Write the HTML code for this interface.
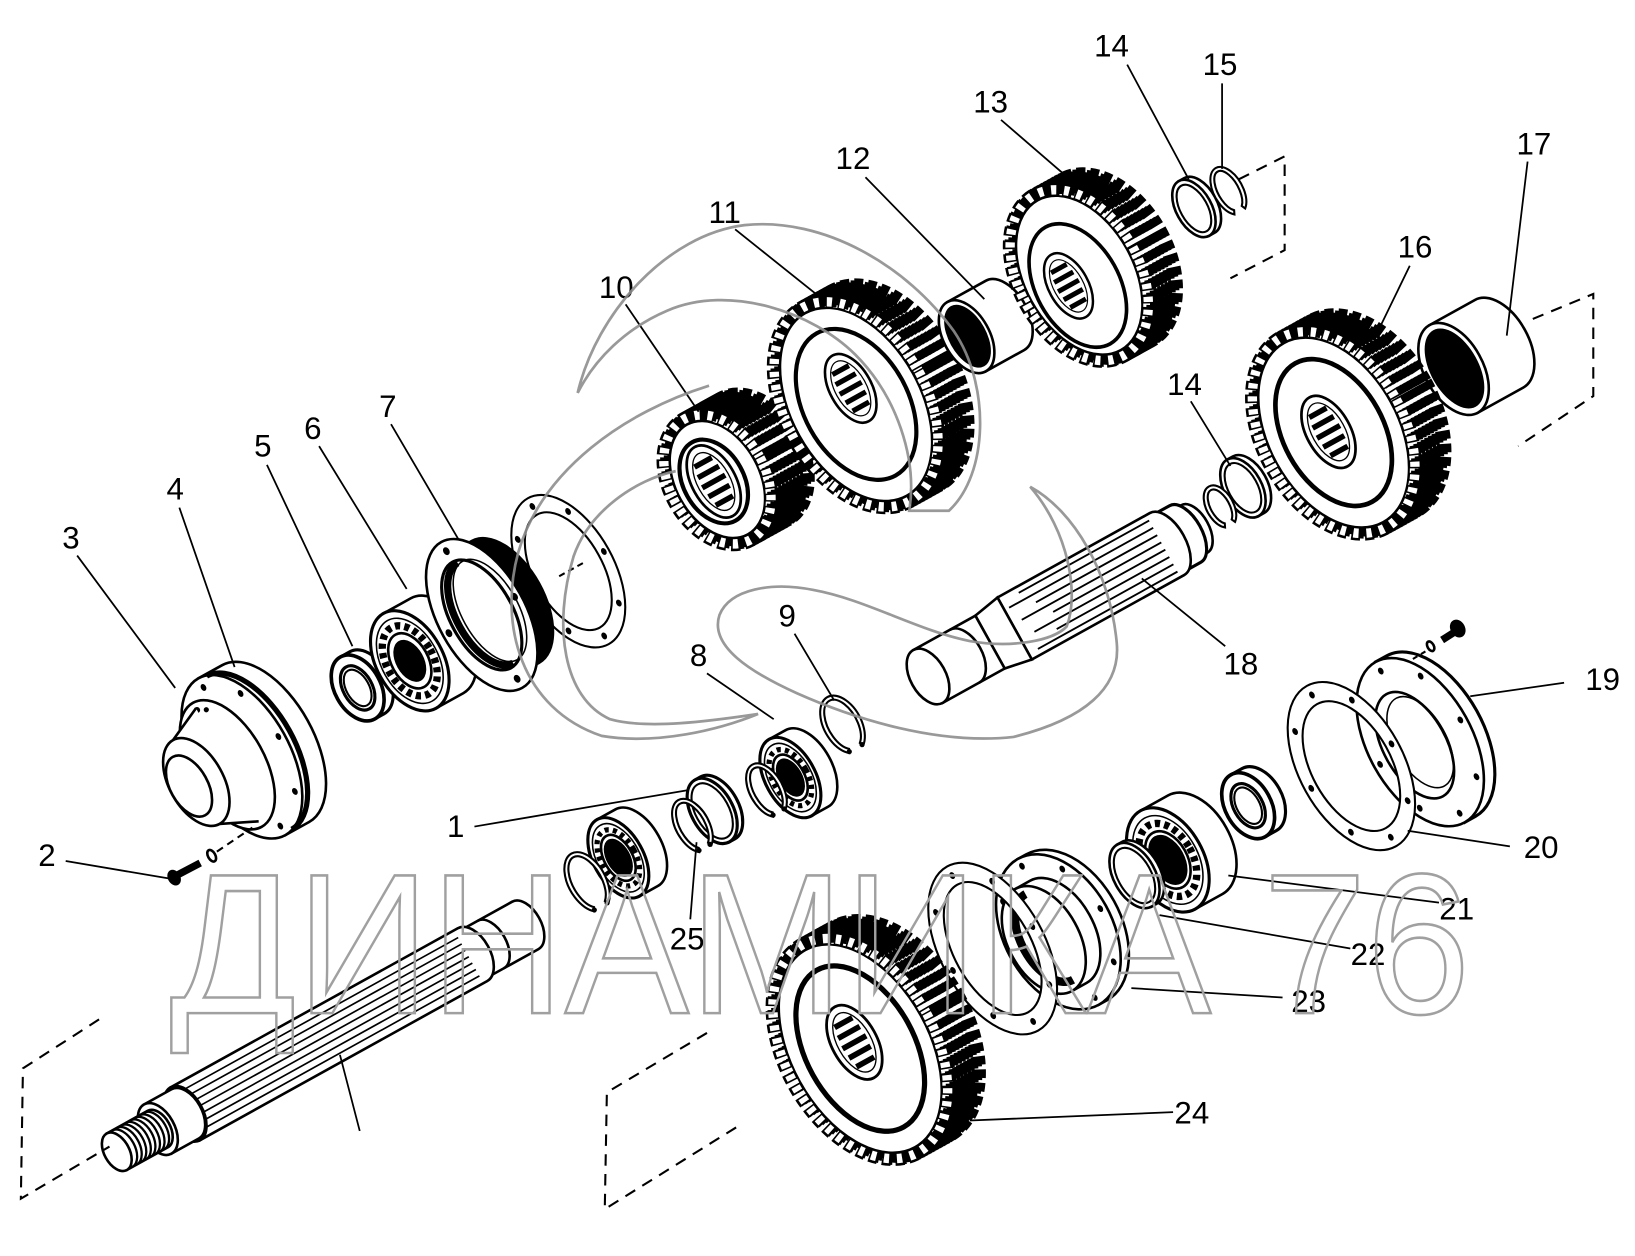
<!DOCTYPE html>
<html><head><meta charset="utf-8"><style>
html,body{margin:0;padding:0;background:#fff;}
svg{display:block;}
text{font-family:"Liberation Sans","Noto Sans CJK SC",sans-serif;}
.o{fill:#fff;stroke:#000;stroke-width:2.5}
.l{fill:none;stroke:#000;stroke-width:2}
.t{fill:none;stroke:#000;stroke-width:14;stroke-dasharray:8 4.5}
.ft{fill:none;stroke:#fff;stroke-width:9;stroke-dasharray:5 7.5;stroke-dashoffset:-1.5}
.b{fill:#000}
.d{fill:none;stroke:#000;stroke-width:2;stroke-dasharray:11 8}
.ld{fill:none;stroke:#000;stroke-width:1.7}
.lab{font-size:30px;text-anchor:middle;fill:#000}
</style></head><body>
<svg width="1635" height="1256" viewBox="0 0 1568 1205" preserveAspectRatio="none" xmlns="http://www.w3.org/2000/svg">
<defs>
<g id="hub"><ellipse rx="20" ry="36" fill="#fff" stroke="#000" stroke-width="2.5"/><ellipse rx="15" ry="29" fill="none" stroke="#000" stroke-width="1.2"/><path d="M-9,-20H9M-11,-10H11M-12,0H12M-11,10H11M-9,20H9" stroke="#000" stroke-width="5"/></g>
</defs>
<rect width="1568" height="1205" fill="#fff"/>

<!-- Housing 4 + cap 3 -->
<g transform="translate(232,726) rotate(-29)">
<path class="o" d="M0,-86L26,-86A46 86 0 0 1 26,86L0,86Z"/>
<ellipse class="o" rx="46" ry="86"/>
<path d="M8,-84A44 84 0 0 1 8,84" fill="none" stroke="#000" stroke-width="5"/>
<ellipse class="b" cx="40" cy="0" rx="2.5" ry="3.5"/><ellipse class="b" cx="28.3" cy="53.7" rx="2.5" ry="3.5"/><ellipse class="b" cx="0" cy="76" rx="2.5" ry="3.5"/><ellipse class="b" cx="-28.3" cy="53.7" rx="2.5" ry="3.5"/><ellipse class="b" cx="-28.3" cy="-53.7" rx="2.5" ry="3.5"/><ellipse class="b" cx="0" cy="-76" rx="2.5" ry="3.5"/><ellipse class="b" cx="28.3" cy="-53.7" rx="2.5" ry="3.5"/>
<ellipse class="o" cx="-16" rx="36" ry="68"/>
<circle class="b" cx="-16" cy="-60" r="3"/><circle class="b" cx="-8" cy="-56" r="2.5"/>
<path d="M-16,-62L-50,-46L-50,46L-16,62Z" fill="#fff"/>
<path class="l" d="M-16,-62L-50,-46M-16,62L-50,46" style="stroke-width:2.5"/>
<ellipse class="o" cx="-50" rx="26" ry="46"/>
<ellipse class="o" cx="-58" rx="18" ry="32"/>
</g>

<!-- Bolt 2 -->
<path d="M171,839L192,828" stroke="#000" stroke-width="7"/>
<ellipse cx="167" cy="842" rx="6" ry="8" fill="#000" transform="rotate(-29 167 842)"/>
<ellipse cx="203" cy="821" rx="3.5" ry="6" class="o" transform="rotate(-29 203 821)"/>
<path class="d" d="M208,817L242,794" style="stroke-dasharray:7 5"/>

<!-- Nut 5 -->
<g transform="translate(343,660) rotate(-29)">
<path class="o" d="M0,-34L10,-34A22 34 0 0 1 10,34L0,34Z" style="stroke-width:3"/>
<ellipse class="o" rx="22" ry="34" style="stroke-width:3.5"/>
<ellipse class="o" rx="14" ry="23" style="stroke-width:3"/>
<ellipse class="l" rx="11" ry="19"/>
</g>

<!-- Bearing 6 -->
<g transform="translate(393,634) rotate(-29)">
<path class="o" d="M0,-52L30,-52A32 52 0 0 1 30,52L0,52Z"/>
<ellipse class="o" rx="32" ry="52" style="stroke-width:3"/>
<ellipse class="l" rx="27.2" ry="44.2" style="stroke-width:1.5"/>
<ellipse rx="22.4" ry="36.4" fill="none" stroke="#000" stroke-width="7" stroke-dasharray="5 4"/>
<ellipse class="o" rx="17.6" ry="28.6"/>
<ellipse class="b" rx="13.4" ry="21.8"/>
</g>

<!-- Gasket behind 7 -->
<g transform="translate(545,548) rotate(-29)">
<path class="o" fill-rule="evenodd" d="M-44,0A44 80 0 1 0 44,0A44 80 0 1 0 -44,0ZM-33,0A33 62 0 1 0 33,0A33 62 0 1 0 -33,0Z" style="stroke-width:2"/>
<ellipse class="b" cx="39" cy="0" rx="2.5" ry="3.5"/><ellipse class="b" cx="27.6" cy="50.2" rx="2.5" ry="3.5"/><ellipse class="b" cx="0" cy="71" rx="2.5" ry="3.5"/><ellipse class="b" cx="-27.6" cy="50.2" rx="2.5" ry="3.5"/><ellipse class="b" cx="-39" cy="0" rx="2.5" ry="3.5"/><ellipse class="b" cx="-27.6" cy="-50.2" rx="2.5" ry="3.5"/><ellipse class="b" cx="0" cy="-71" rx="2.5" ry="3.5"/><ellipse class="b" cx="27.6" cy="-50.2" rx="2.5" ry="3.5"/>
<path class="d" d="M-10,0H20" style="stroke-dasharray:6 4"/>
</g>

<!-- Part 7 flange + seal -->
<g transform="translate(462,590) rotate(-29)">
<path d="M0,-68L26,-68A38 68 0 0 1 26,68L0,68Z" fill="#000"/>
<ellipse class="o" rx="42" ry="80"/>
<ellipse class="b" cx="36" cy="0" rx="3" ry="4"/><ellipse class="b" cx="0" cy="70" rx="3" ry="4"/><ellipse class="b" cx="-36" cy="0" rx="3" ry="4"/><ellipse class="b" cx="0" cy="-70" rx="3" ry="4"/>
<ellipse class="o" rx="30" ry="58" style="stroke-width:3"/>
<ellipse class="l" cx="9" rx="27" ry="54" style="stroke-width:1.5"/>
<path d="M4,-55A28 55 0 0 0 4,55" fill="none" stroke="#000" stroke-width="7"/>
</g>

<!-- Gear 10 -->
<g transform="translate(688,460) rotate(-29)">
<g class="t"><ellipse cx="40" rx="46" ry="66"/><ellipse cx="36" rx="46" ry="66"/><ellipse cx="32" rx="46" ry="66"/><ellipse cx="28" rx="46" ry="66"/><ellipse cx="24" rx="46" ry="66"/><ellipse cx="20" rx="46" ry="66"/><ellipse cx="16" rx="46" ry="66"/><ellipse cx="12" rx="46" ry="66"/><ellipse cx="8" rx="46" ry="66"/><ellipse cx="4" rx="46" ry="66"/><ellipse cx="0" rx="46" ry="66"/></g>
<ellipse class="ft" rx="46" ry="66"/>
<ellipse class="o" rx="40" ry="60" style="stroke-width:2"/>
<ellipse cx="-4" rx="29" ry="43" fill="#fff" stroke="#000" stroke-width="4"/>
<use href="#hub" transform="translate(-4,0) scale(1.05)"/>
</g>

<!-- Gear 11 -->
<g transform="translate(821,388) rotate(-29)">
<g class="t"><ellipse cx="32" rx="68" ry="106"/><ellipse cx="28" rx="68" ry="106"/><ellipse cx="24" rx="68" ry="106"/><ellipse cx="20" rx="68" ry="106"/><ellipse cx="16" rx="68" ry="106"/><ellipse cx="12" rx="68" ry="106"/><ellipse cx="8" rx="68" ry="106"/><ellipse cx="4" rx="68" ry="106"/><ellipse cx="0" rx="68" ry="106"/></g>
<ellipse class="ft" rx="68" ry="106"/>
<ellipse class="o" rx="62" ry="100" style="stroke-width:2"/>
<ellipse rx="50" ry="78" fill="none" stroke="#000" stroke-width="4"/>
<use href="#hub" transform="translate(3,-16)"/>
</g>

<!-- Bushing 12 -->
<g transform="translate(927,323) rotate(-29)">
<path class="o" d="M0,-38L42,-38A22 38 0 0 1 42,38L0,38Z"/>
<ellipse class="o" rx="22" ry="38"/>
<ellipse class="b" cx="1" rx="18" ry="33"/>
</g>

<!-- Gear 13 -->
<g transform="translate(1035,264) rotate(-29)">
<g class="t"><ellipse cx="30" rx="58" ry="88"/><ellipse cx="26" rx="58" ry="88"/><ellipse cx="22" rx="58" ry="88"/><ellipse cx="18" rx="58" ry="88"/><ellipse cx="14" rx="58" ry="88"/><ellipse cx="10" rx="58" ry="88"/><ellipse cx="6" rx="58" ry="88"/><ellipse cx="2" rx="58" ry="88"/><ellipse cx="0" rx="58" ry="88"/></g>
<ellipse class="ft" rx="58" ry="88"/>
<ellipse class="o" rx="52" ry="82" style="stroke-width:2"/>
<ellipse cx="-6" cy="8" rx="40" ry="64" fill="none" stroke="#000" stroke-width="3.5"/>
<use href="#hub" transform="translate(-14,4) scale(0.95)"/>
</g>

<!-- Ring 14 top, snap ring 15 -->
<g transform="translate(1145,200) rotate(-29)">
<path class="o" d="M0,-30L6,-30A17 30 0 0 1 6,30L0,30Z"/>
<ellipse class="o" rx="17" ry="30"/>
<ellipse class="l" rx="13" ry="25"/>
</g>
<g transform="translate(1178,183) rotate(-29)">
<path class="o" d="M-5.9,22.7A14 25 0 1 1 5.9,22.7L4.2,19A10 21 0 1 0 -4.2,19Z" style="stroke-width:2"/>
</g>

<!-- Bushing 17 -->
<g transform="translate(1394,354) rotate(-29)">
<path class="o" d="M0,-48L50,-48A28 48 0 0 1 50,48L0,48Z"/>
<ellipse class="o" rx="28" ry="48"/>
<ellipse class="b" cx="1" rx="23" ry="42"/>
</g>

<!-- Gear 16 -->
<g transform="translate(1279,415) rotate(-29)">
<g class="t"><ellipse cx="32" rx="68" ry="104"/><ellipse cx="28" rx="68" ry="104"/><ellipse cx="24" rx="68" ry="104"/><ellipse cx="20" rx="68" ry="104"/><ellipse cx="16" rx="68" ry="104"/><ellipse cx="12" rx="68" ry="104"/><ellipse cx="8" rx="68" ry="104"/><ellipse cx="4" rx="68" ry="104"/><ellipse cx="0" rx="68" ry="104"/></g>
<ellipse class="ft" rx="68" ry="104"/>
<ellipse class="o" rx="62" ry="98" style="stroke-width:2"/>
<ellipse rx="48" ry="76" fill="none" stroke="#000" stroke-width="4.5"/>
<use href="#hub" transform="translate(-4,-3) scale(1.05)"/>
</g>

<!-- Ring 14 middle + snap ring -->
<g transform="translate(1192,468) rotate(-29)">
<path class="o" d="M0,-31L6,-31A18 31 0 0 1 6,31L0,31Z"/>
<ellipse class="o" rx="18" ry="31"/>
<ellipse class="l" rx="14" ry="26"/>
</g>
<g transform="translate(1170,486) rotate(-29)">
<path class="o" d="M-5.5,19.9A13 22 0 1 1 5.5,19.9L3.8,16.3A9 18 0 1 0 -3.8,16.3Z" style="stroke-width:2"/>
</g>

<!-- Shaft 18 -->
<g transform="translate(890,649) rotate(-29)">
<path class="o" d="M282,-26L292,-26A14 26 0 0 1 292,26L282,26Z"/>
<path class="o" d="M262,-31L282,-31A16 31 0 0 1 282,31L262,31Z" style="stroke-width:3"/>
<path class="o" d="M95,-34L262,-34A18 34 0 0 1 262,34L95,34Z"/>
<path class="l" d="M115,-28H258M100,-20H258M125,-12H258M105,-4H258M135,4H258M110,12H258M130,20H258M105,28H258" style="stroke-width:1.8"/>
<path class="o" d="M68,-29L95,-34L95,34L68,29Z"/>
<path class="o" d="M0,-29L68,-29L68,29L0,29Z"/>
<path class="l" d="M40,-29A17 29 0 0 1 40,29" style="stroke-width:2.5"/>
<ellipse class="o" rx="17" ry="29"/>
</g>

<!-- Snap ring 9 -->
<g transform="translate(808,695) rotate(-29)">
<path class="o" d="M-7.6,27.2A18 30 0 1 1 7.6,27.2L5.9,23.6A14 26 0 1 0 -5.9,23.6Z" style="stroke-width:2"/>
<circle class="b" cx="-7" cy="26" r="2.5"/><circle class="b" cx="7" cy="26" r="2.5"/>
</g>
<!-- Bearing 8 -->
<g transform="translate(758,746) rotate(-29)">
<path class="o" d="M0,-42L18,-42A24 42 0 0 1 18,42L0,42Z"/>
<ellipse class="o" rx="24" ry="42" style="stroke-width:3"/>
<ellipse class="l" rx="20.4" ry="35.7" style="stroke-width:1.5"/>
<ellipse rx="16.8" ry="29.4" fill="none" stroke="#000" stroke-width="5" stroke-dasharray="4 4"/>
<ellipse class="o" rx="13.6" ry="24"/>
<ellipse class="b" rx="11.5" ry="20"/>
</g>
<!-- snap ring -->
<g transform="translate(735,758) rotate(-29)">
<path class="o" d="M-6.8,25.4A16 28 0 1 1 6.8,25.4L5.1,21.7A12 24 0 1 0 -5.1,21.7Z" style="stroke-width:2"/>
<circle class="b" cx="-6" cy="24" r="2.5"/><circle class="b" cx="6" cy="24" r="2.5"/>
</g>
<!-- Ring 1 -->
<g transform="translate(683,778) rotate(-29)">
<path class="o" d="M0,-34L6,-34A20 34 0 0 1 6,34L0,34Z" style="stroke-width:3"/>
<ellipse class="o" rx="20" ry="34" style="stroke-width:3"/>
<ellipse class="l" rx="16" ry="29"/>
</g>
<!-- snap ring 25 -->
<g transform="translate(664,792) rotate(-29)">
<path class="o" d="M-6.8,25.4A16 28 0 1 1 6.8,25.4L5.1,21.7A12 24 0 1 0 -5.1,21.7Z" style="stroke-width:2"/>
<circle class="b" cx="-6" cy="24" r="2.5"/><circle class="b" cx="6" cy="24" r="2.5"/>
</g>
<!-- lower bearing -->
<g transform="translate(593,823) rotate(-29)">
<path class="o" d="M0,-42L20,-42A24 42 0 0 1 20,42L0,42Z"/>
<ellipse class="o" rx="24" ry="42" style="stroke-width:3"/>
<ellipse class="l" rx="20.4" ry="35.7" style="stroke-width:1.5"/>
<ellipse rx="16.8" ry="29.4" fill="none" stroke="#000" stroke-width="5" stroke-dasharray="4 4"/>
<ellipse class="o" rx="13.6" ry="24"/>
<ellipse class="b" rx="11.5" ry="20"/>
</g>
<!-- left snap ring -->
<g transform="translate(563,846) rotate(-29)">
<path class="o" d="M-7.6,28.1A18 31 0 1 1 7.6,28.1L5.9,24.5A14 27 0 1 0 -5.9,24.5Z" style="stroke-width:2"/>
<circle class="b" cx="-7" cy="27" r="2.5"/><circle class="b" cx="7" cy="27" r="2.5"/>
</g>

<!-- Bottom input shaft -->
<g transform="translate(112,1105) rotate(-29)">
<path class="o" d="M390,-26L448,-26A15 26 0 0 1 448,26L390,26Z"/>
<path class="l" d="M410,-26A15 26 0 0 1 410,26" style="stroke-width:2.5"/>
<path class="o" d="M75,-29L390,-29A17 29 0 0 1 390,29L75,29Z"/>
<path class="l" d="M82,-21H386M82,-14H386M82,-7H386M82,0H386M82,7H386M82,14H386M82,21H386" style="stroke-width:1.6"/>
<ellipse class="o" cx="75" rx="17" ry="29"/>
<path class="o" d="M45,-27L75,-27A16 27 0 0 1 75,27L45,27Z"/>
<ellipse class="o" cx="45" rx="16" ry="27"/>
<path class="o" d="M0,-20L45,-20A12 20 0 0 1 45,20L0,20Z"/>
<path class="l" d="M6,-20A12 20 0 0 1 6,20M11,-20A12 20 0 0 1 11,20M16,-20A12 20 0 0 1 16,20M21,-20A12 20 0 0 1 21,20M26,-20A12 20 0 0 1 26,20M31,-20A12 20 0 0 1 31,20M36,-20A12 20 0 0 1 36,20M41,-20A12 20 0 0 1 41,20" style="stroke-width:2.2"/>
<ellipse class="o" rx="12" ry="20"/>
</g>

<!-- Cover 19 -->
<g transform="translate(1362,712) rotate(-29)">
<path class="o" d="M0,-88L12,-88A50 88 0 0 1 12,88L0,88Z" style="stroke-width:3"/>
<ellipse class="o" rx="50" ry="88"/>
<ellipse class="b" cx="44" cy="0" rx="2.5" ry="3.5"/><ellipse class="b" cx="31.1" cy="55.2" rx="2.5" ry="3.5"/><ellipse class="b" cx="0" cy="78" rx="2.5" ry="3.5"/><ellipse class="b" cx="-31.1" cy="55.2" rx="2.5" ry="3.5"/><ellipse class="b" cx="-44" cy="0" rx="2.5" ry="3.5"/><ellipse class="b" cx="-31.1" cy="-55.2" rx="2.5" ry="3.5"/><ellipse class="b" cx="0" cy="-78" rx="2.5" ry="3.5"/><ellipse class="b" cx="31.1" cy="-55.2" rx="2.5" ry="3.5"/>
<ellipse class="o" cx="-6" rx="30" ry="56"/>
<ellipse class="l" rx="25" ry="48" style="stroke-width:1.5"/>
</g>
<!-- bolt near 19 -->
<path d="M1394,607L1383,614" stroke="#000" stroke-width="7"/>
<ellipse cx="1398" cy="603" rx="7" ry="9" fill="#000" transform="rotate(-29 1398 603)"/>
<ellipse cx="1372" cy="620" rx="3" ry="5" class="o" transform="rotate(-29 1372 620)"/>
<path class="d" d="M1367,625L1352,634" style="stroke-dasharray:5 4"/>

<!-- Gasket 20 -->
<g transform="translate(1296,735) rotate(-29)">
<path class="o" fill-rule="evenodd" d="M-50,0A50 88 0 1 0 50,0A50 88 0 1 0 -50,0ZM-38,0A38 68 0 1 0 38,0A38 68 0 1 0 -38,0Z" style="stroke-width:2"/>
<ellipse class="b" cx="44" cy="0" rx="2.5" ry="3.5"/><ellipse class="b" cx="31.1" cy="55.2" rx="2.5" ry="3.5"/><ellipse class="b" cx="0" cy="78" rx="2.5" ry="3.5"/><ellipse class="b" cx="-31.1" cy="55.2" rx="2.5" ry="3.5"/><ellipse class="b" cx="-44" cy="0" rx="2.5" ry="3.5"/><ellipse class="b" cx="-31.1" cy="-55.2" rx="2.5" ry="3.5"/><ellipse class="b" cx="0" cy="-78" rx="2.5" ry="3.5"/><ellipse class="b" cx="31.1" cy="-55.2" rx="2.5" ry="3.5"/>
</g>

<!-- Nut near 21 -->
<g transform="translate(1197,773) rotate(-29)">
<path class="o" d="M0,-34L12,-34A22 34 0 0 1 12,34L0,34Z" style="stroke-width:3"/>
<ellipse class="o" rx="22" ry="34" style="stroke-width:3.5"/>
<ellipse class="o" rx="14" ry="23" style="stroke-width:3"/>
<ellipse class="l" rx="11" ry="19"/>
</g>

<!-- Bearing 21 -->
<g transform="translate(1120,825) rotate(-29)">
<path class="o" d="M0,-54L30,-54A34 54 0 0 1 30,54L0,54Z"/>
<ellipse class="o" rx="34" ry="54" style="stroke-width:3"/>
<ellipse class="l" rx="28.9" ry="45.9" style="stroke-width:1.5"/>
<ellipse rx="23.8" ry="37.8" fill="none" stroke="#000" stroke-width="7" stroke-dasharray="5 4"/>
<ellipse class="o" rx="18.7" ry="29.7"/>
<ellipse class="b" rx="16" ry="26"/>
</g>

<!-- Ring 22 -->
<g transform="translate(1088,840) rotate(-29)">
<path class="o" d="M0,-34L5,-34A20 34 0 0 1 5,34L0,34Z"/>
<ellipse class="o" rx="20" ry="34"/>
<ellipse class="l" rx="16" ry="29"/>
</g>

<!-- Cover 23 -->
<g transform="translate(1015,894) rotate(-29)">
<path class="o" d="M0,-80L9,-80A52 80 0 0 1 9,80L0,80Z"/>
<ellipse class="o" rx="52" ry="80"/>
<ellipse class="b" cx="46" cy="0" rx="2.5" ry="3.5"/><ellipse class="b" cx="32.5" cy="50.9" rx="2.5" ry="3.5"/><ellipse class="b" cx="0" cy="72" rx="2.5" ry="3.5"/><ellipse class="b" cx="-32.5" cy="50.9" rx="2.5" ry="3.5"/><ellipse class="b" cx="-46" cy="0" rx="2.5" ry="3.5"/><ellipse class="b" cx="-32.5" cy="-50.9" rx="2.5" ry="3.5"/><ellipse class="b" cx="0" cy="-72" rx="2.5" ry="3.5"/><ellipse class="b" cx="32.5" cy="-50.9" rx="2.5" ry="3.5"/>
<path class="o" d="M-16,-56L0,-56A34 56 0 0 1 0,56L-16,56Z"/>
<ellipse class="o" cx="-16" rx="34" ry="56"/>
<path d="M-10,-47A27 47 0 0 0 -10,47" fill="none" stroke="#000" stroke-width="8"/>
</g>

<!-- Gasket near 24 -->
<g transform="translate(952,910) rotate(-29)">
<path class="o" fill-rule="evenodd" d="M-50,0A50 90 0 1 0 50,0A50 90 0 1 0 -50,0ZM-37,0A37 70 0 1 0 37,0A37 70 0 1 0 -37,0Z" style="stroke-width:2"/>
<ellipse class="b" cx="43.5" cy="0" rx="2.5" ry="3.5"/><ellipse class="b" cx="30.8" cy="56.6" rx="2.5" ry="3.5"/><ellipse class="b" cx="0" cy="80" rx="2.5" ry="3.5"/><ellipse class="b" cx="-30.8" cy="56.6" rx="2.5" ry="3.5"/><ellipse class="b" cx="-43.5" cy="0" rx="2.5" ry="3.5"/><ellipse class="b" cx="-30.8" cy="-56.6" rx="2.5" ry="3.5"/><ellipse class="b" cx="0" cy="-80" rx="2.5" ry="3.5"/><ellipse class="b" cx="30.8" cy="-56.6" rx="2.5" ry="3.5"/>
</g>

<!-- Gear 24 -->
<g transform="translate(825,1006) rotate(-29)">
<g class="t"><ellipse cx="34" rx="72" ry="114"/><ellipse cx="30" rx="72" ry="114"/><ellipse cx="26" rx="72" ry="114"/><ellipse cx="22" rx="72" ry="114"/><ellipse cx="18" rx="72" ry="114"/><ellipse cx="14" rx="72" ry="114"/><ellipse cx="10" rx="72" ry="114"/><ellipse cx="6" rx="72" ry="114"/><ellipse cx="2" rx="72" ry="114"/><ellipse cx="0" rx="72" ry="114"/></g>
<ellipse class="ft" rx="72" ry="114"/>
<ellipse class="o" rx="66" ry="108" style="stroke-width:2"/>
<ellipse rx="52" ry="86" fill="none" stroke="#000" stroke-width="5"/>
<use href="#hub" transform="translate(-2,-8) scale(1.08)"/>
</g>

<!-- Dashed phantom brackets -->
<path class="d" d="M1188,172L1232,150L1232,240L1180,267"/>
<path class="d" d="M1470,306L1528,282L1528,380L1456,428"/>
<path class="d" d="M95,978L22,1025L20,1150L105,1100"/>
<path class="d" d="M678,991L582,1048L580,1160L707,1081"/>

<!-- Leaders -->
<path class="ld" d="M1081,62L1140,172M1172,80L1172,162M960,115L1026,172M830,170L944,287M705,220L790,288M600,292L670,395M1465,155L1445,322M1352,255L1318,325M1142,385L1180,447M375,407L440,518M306,428L390,565M256,446L338,620M172,487L225,640M74,533L168,660M762,608L800,672M678,646L742,690M1175,620L1095,555M1500,655L1410,668M455,793L660,758M63,826L163,843M1448,812L1350,797M662,882L668,808M1380,866L1178,840M1295,910L1112,878M1230,957L1085,948M1125,1067L930,1075M326,1012L345,1085"/>

<!-- Labels -->
<text class="lab" x="1066" y="54">14</text>
<text class="lab" x="1170" y="72">15</text>
<text class="lab" x="950" y="108">13</text>
<text class="lab" x="818" y="162">12</text>
<text class="lab" x="695" y="214">11</text>
<text class="lab" x="591" y="286">10</text>
<text class="lab" x="1471" y="148">17</text>
<text class="lab" x="1357" y="247">16</text>
<text class="lab" x="1136" y="379">14</text>
<text class="lab" x="372" y="400">7</text>
<text class="lab" x="300" y="421">6</text>
<text class="lab" x="252" y="438">5</text>
<text class="lab" x="168" y="479">4</text>
<text class="lab" x="68" y="526">3</text>
<text class="lab" x="755" y="601">9</text>
<text class="lab" x="670" y="639">8</text>
<text class="lab" x="1190" y="647">18</text>
<text class="lab" x="1537" y="662">19</text>
<text class="lab" x="437" y="803">1</text>
<text class="lab" x="45" y="831">2</text>
<text class="lab" x="1478" y="823">20</text>
<text class="lab" x="659" y="911">25</text>
<text class="lab" x="1397" y="882">21</text>
<text class="lab" x="1312" y="926">22</text>
<text class="lab" x="1255" y="971">23</text>
<text class="lab" x="1143" y="1078">24</text>

<!-- Watermark logo swirl -->
<g fill="none" stroke="#8e8e8e" stroke-width="2.6" opacity="0.9">
<path d="M554,377 C572,300 640,225 714,216 C790,208 870,255 915,318 C950,370 948,455 910,490 L872,490 C880,440 860,380 820,340 C780,300 700,272 640,298 C600,315 570,345 554,377 Z"/>
<path d="M680,370 C600,395 520,450 497,530 C478,600 500,680 577,706 C630,715 690,700 727,685 C680,692 620,700 585,690 C540,670 530,600 550,534 C565,490 610,460 648,452"/>
<path d="M988,467 C1030,490 1065,550 1071,617 C1075,660 1040,690 972,707 C900,715 820,690 764,665 C720,645 680,620 690,590 C700,565 740,558 780,566 C830,575 880,605 930,615 C970,622 1010,615 1023,601 C1035,570 1025,510 988,467 Z"/>
</g>
<!-- Watermark text -->
<text x="163" y="972" font-size="192" textLength="1247" lengthAdjust="spacingAndGlyphs" fill="none" stroke="#a0a0a0" stroke-width="2.5">ДИНАМИКА 76</text>
</svg>
</body></html>
